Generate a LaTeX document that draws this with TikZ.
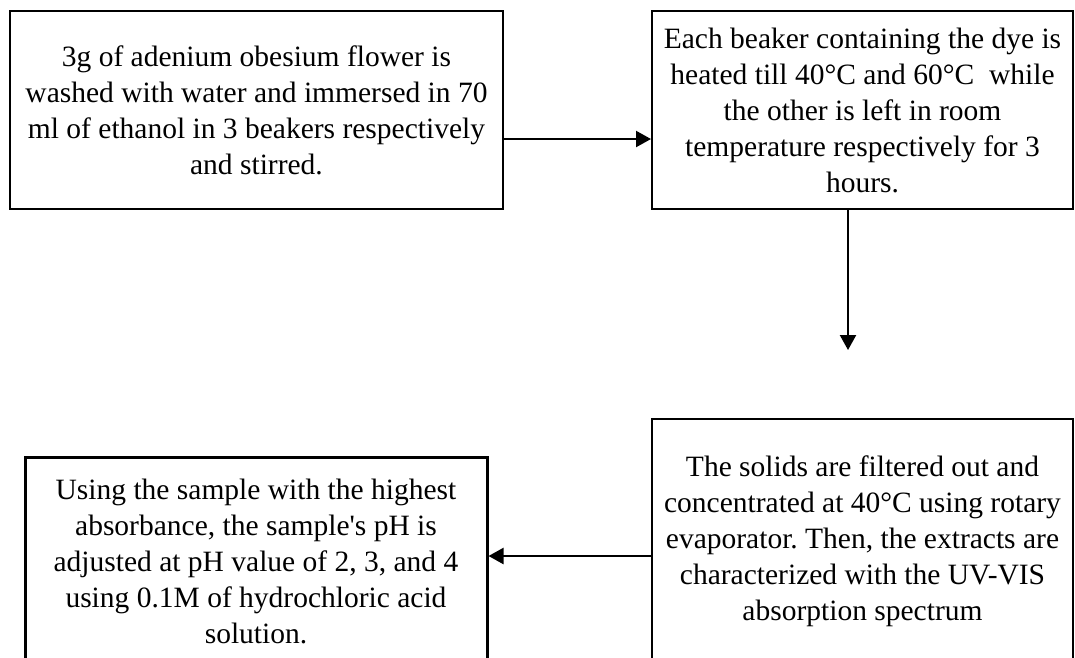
\documentclass[tikz,border=0pt]{standalone}
\usepackage{fontspec}
\setmainfont{Liberation Serif}
\frenchspacing
\usetikzlibrary{arrows.meta}
\tikzset{
  stepbox/.style={draw, line width=2pt, align=flush center, inner sep=0pt,
    font=\fontsize{29.5}{36}\selectfont},
  flow/.style={line width=2.2pt, -{Triangle[length=15pt,width=16pt]}}
}
\begin{document}
\begin{tikzpicture}[x=1pt,y=-1pt]
\useasboundingbox (0,0) rectangle (1075,657);

% steps
\node[stepbox, minimum width=493pt, minimum height=198pt, text width=480pt] (wash) at (256.5,110)
  {3g of adenium obesium flower is\\washed with water and immersed in 70\\ml of ethanol in 3 beakers respectively\\and stirred.};
\node[stepbox, minimum width=421pt, minimum height=198pt, text width=410pt] (heat) at (862.5,110)
  {Each beaker containing the dye is\\heated till 40°C and 60°C~ while\\the other is left in room\\temperature respectively for 3\\hours.};
\node[stepbox, minimum width=421pt, minimum height=244pt, text width=410pt] (filter) at (862.5,541)
  {The solids are filtered out and\\concentrated at 40°C using rotary\\evaporator. Then, the extracts are\\characterized with the UV-VIS\\absorption spectrum};
\node[stepbox, line width=3pt, minimum width=462pt, minimum height=208pt, text width=450pt] (adjust) at (256,561)
  {Using the sample with the highest\\absorbance, the sample\textquotesingle s pH is\\adjusted at pH value of 2, 3, and 4\\using 0.1M of hydrochloric acid\\solution.};

% arrows
\coordinate (drop) at (848,350);
\draw[flow] ([yshift=-29pt]wash.east) -- ([yshift=-29pt]heat.west);
\draw[flow] (heat.south -| drop) -- (drop);
\draw[flow] ([yshift=-15pt]filter.west) coordinate (f) -- (adjust.east |- f);

\end{tikzpicture}
\end{document}
